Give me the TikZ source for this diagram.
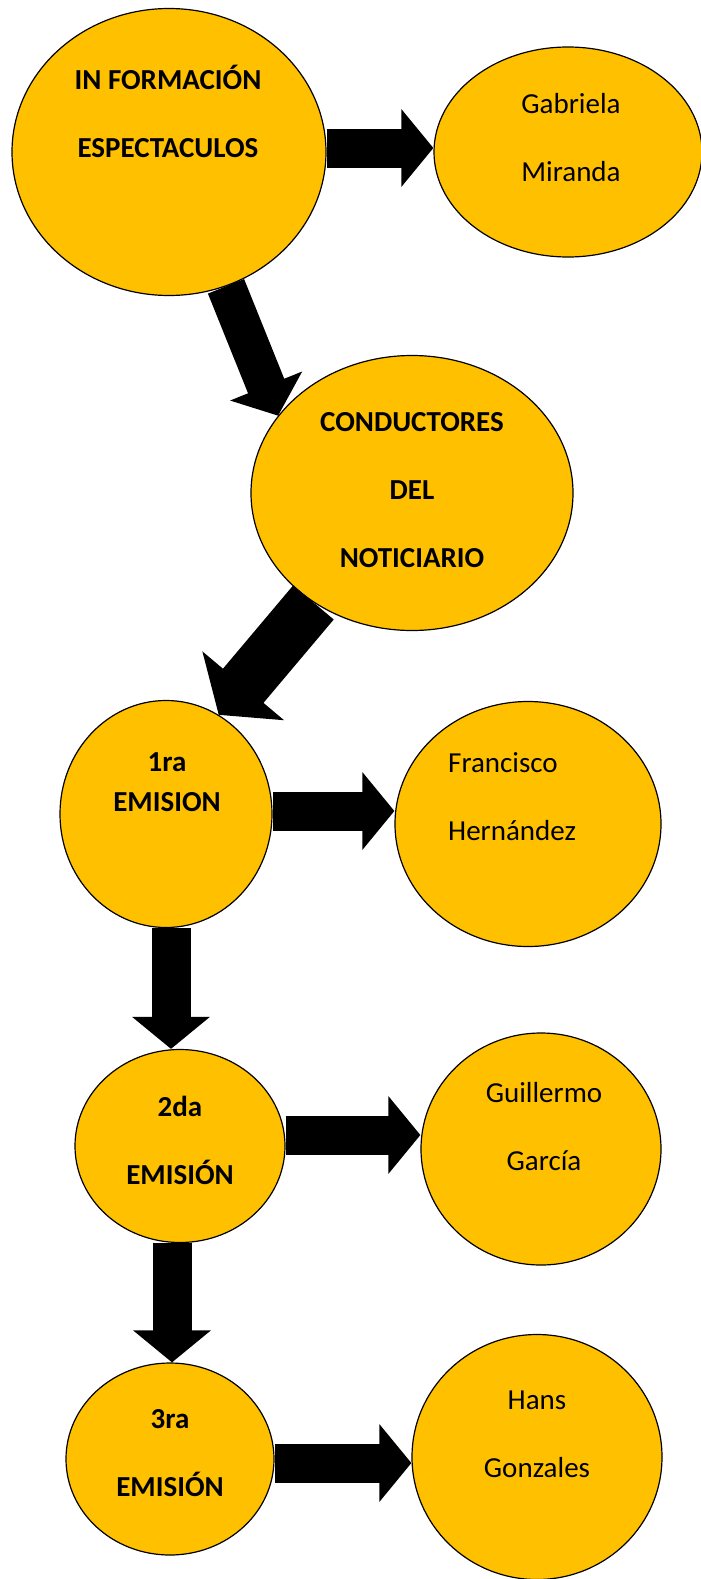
\documentclass[tikz,border=0pt]{standalone}
\usepackage{fontspec}
\setmainfont{Carlito}
\usetikzlibrary{arrows.meta,shapes.geometric}
\definecolor{emYellow}{RGB}{255,192,0}
\tikzset{
    base/.style={font=\fontsize{29}{68}\selectfont, align=center, inner sep=0pt},
    title/.style={base, font=\fontsize{29}{68}\selectfont\bfseries},
    person/.style={base},
    topic/.style={ellipse, draw=black, line width=1.2pt, fill=emYellow, inner sep=0pt},
    flow/.style={-{Triangle[length=32pt,width=76pt]}, line width=39pt, black},
    bigflow/.style={-{Triangle[length=38pt,width=105pt]}, line width=53pt, black}
}
\begin{document}
\begin{tikzpicture}[x=1pt, y=1pt]
    \useasboundingbox (0,0) rectangle (701,-1579);

    % Ellipses
    \node[topic, minimum width=314pt, minimum height=287pt] (info) at (169,-152) {};
    \node[topic, minimum width=268pt, minimum height=210pt] (gab) at (568,-152) {};
    \node[topic, minimum width=322pt, minimum height=275pt] (cond) at (412,-493) {};
    \node[topic, minimum width=212pt, minimum height=227pt] (one) at (166,-814) {};
    \node[topic, minimum width=266pt, minimum height=245pt] (fran) at (528,-824) {};
    \node[topic, minimum width=210pt, minimum height=193pt] (two) at (180,-1146) {};
    \node[topic, minimum width=240pt, minimum height=232pt] (guil) at (541,-1149) {};
    \node[topic, minimum width=250pt, minimum height=245pt] (hans) at (537,-1457) {};
    \node[topic, minimum width=208pt, minimum height=192pt] (three) at (170,-1459) {};

    % Arrows
    \draw[flow] ([yshift=4pt]info.east) -- ([yshift=4pt]info.east -| gab.west);
    \draw[flow] (info.-67) -- (cond.150);
    \draw[bigflow] (cond.228) -- (one.62);
    \draw[flow] ([yshift=3pt]one.east) -- ([yshift=3pt]one.east -| fran.west);
    \draw[flow] ([xshift=5pt]one.south) -- ([xshift=5pt]one.south |- two.north);
    \draw[flow] ([yshift=11pt]two.east) -- ([yshift=11pt]two.east -| guil.west);
    \draw[flow] ([xshift=-8pt]two.south) -- ([xshift=-8pt]two.south |- three.north);
    \draw[flow] ([yshift=-4pt]three.east) -- ([yshift=-4pt]three.east -| hans.west);

    % Texts
    \node[title] (infoT) at (168,-111) {IN FORMACIÓN\\ESPECTACULOS};
    \node[person] (gabT) at (571,-138) {Gabriela\\Miranda};
    \node[title] (condT) at (412,-490) {CONDUCTORES\\DEL\\NOTICIARIO};
    \node[title, font=\fontsize{29}{40}\selectfont\bfseries] (oneT) at (167,-782) {1ra\\EMISION};
    \node[person, align=left, anchor=west] (franT) at (448,-797) {Francisco\\Hernández};
    \node[title] (twoT) at (180,-1140) {2da\\EMISIÓN};
    \node[person] (guilT) at (544,-1127) {Guillermo\\García};
    \node[title] (threeT) at (170,-1453) {3ra\\EMISIÓN};
    \node[person] (hansT) at (537,-1434) {Hans\\Gonzales};
\end{tikzpicture}
\end{document}
